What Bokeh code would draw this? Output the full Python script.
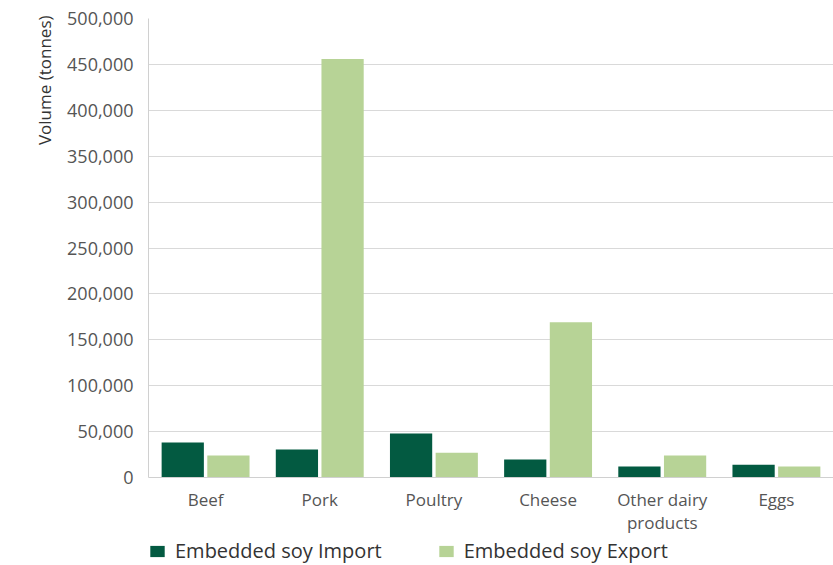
from bokeh.plotting import figure
from bokeh.layouts import column
from bokeh.models import ColumnDataSource, Legend, LegendItem, NumeralTickFormatter, FixedTicker, Range1d, Title
from bokeh.transform import dodge
from bokeh.embed import file_html
from bokeh.resources import INLINE

categories = ["Beef", "Pork", "Poultry", "Cheese", "Other dairy\nproducts", "Eggs"]
imports = [38000, 30500, 48000, 19500, 12000, 14000]
exports = [24000, 456000, 27000, 169000, 24000, 12000]
y_ticks = [0, 50000, 100000, 150000, 200000, 250000, 300000, 350000, 400000, 450000, 500000]
series_names = ["Embedded soy Import", "Embedded soy Export"]
series_cols = ["imp", "exp"]
series_colors = ["#035a41", "#b7d396"]

src = ColumnDataSource(data=dict(cat=categories, imp=imports, exp=exports))

p = figure(x_range=categories, frame_width=685, frame_height=459, output_backend="svg",
           toolbar_location=None, min_border_left=148, min_border_right=0,
           min_border_top=18, min_border_bottom=61)
p.y_range = Range1d(0, 500000)

for off, col, c in zip([-0.2, 0.2], series_cols, series_colors):
    p.vbar(x=dodge("cat", off, range=p.x_range), top=col, width=0.37,
           source=src, color=c, line_color=None)

p.outline_line_color = None
p.xgrid.grid_line_color = None
p.ygrid.grid_line_color = "#d9d9d9"
p.ygrid.grid_line_width = 1

p.yaxis.ticker = FixedTicker(ticks=y_ticks)
p.yaxis.formatter = NumeralTickFormatter(format="0,0")
for ax in (p.xaxis, p.yaxis):
    ax.major_label_text_font = "Open Sans"
    ax.major_label_text_font_size = "17px"
    ax.major_label_text_color = "#555555"
    ax.axis_line_color = "#d0d0d0"
    ax.major_tick_line_color = None
    ax.minor_tick_line_color = None
p.yaxis.major_label_text_font_size = "18px"
p.yaxis.major_label_standoff = 9
p.xaxis.major_label_standoff = 4
p.xaxis.major_label_text_line_height = 1.0

ytitle = Title(text="Volume (tonnes)", align="right", text_font="Open Sans",
               text_font_size="17px", text_font_style="normal",
               text_color="#333333", standoff=18, offset=-3)
p.add_layout(ytitle, "left")

# legend-only strip under the chart (its bars have zero width and fall outside its y range)
lg = figure(x_range=categories, width=833, height=27, output_backend="svg", toolbar_location=None,
            min_border_left=0, min_border_right=0, min_border_top=0, min_border_bottom=0,
            y_range=Range1d(5e7, 5e7 + 1))
lg.axis.visible = False
lg.grid.visible = False
lg.outline_line_color = None
rr = [lg.vbar(x="cat", top=col, width=0, source=src, color=c, line_color=None)
      for col, c in zip(series_cols, series_colors)]

legend = Legend(items=[LegendItem(label=n, renderers=[r]) for n, r in zip(series_names, rr)],
                orientation="horizontal", location=(0, 1),
                label_text_font="Open Sans", label_text_font_size="20px",
                label_text_color="#333333", glyph_width=18, glyph_height=14,
                label_standoff=9, spacing=55, border_line_color=None,
                background_fill_alpha=0, margin=0, padding=0)
lg.add_layout(legend, "center")

open("out.html", "w").write(file_html(column(p, lg, spacing=0), INLINE))
